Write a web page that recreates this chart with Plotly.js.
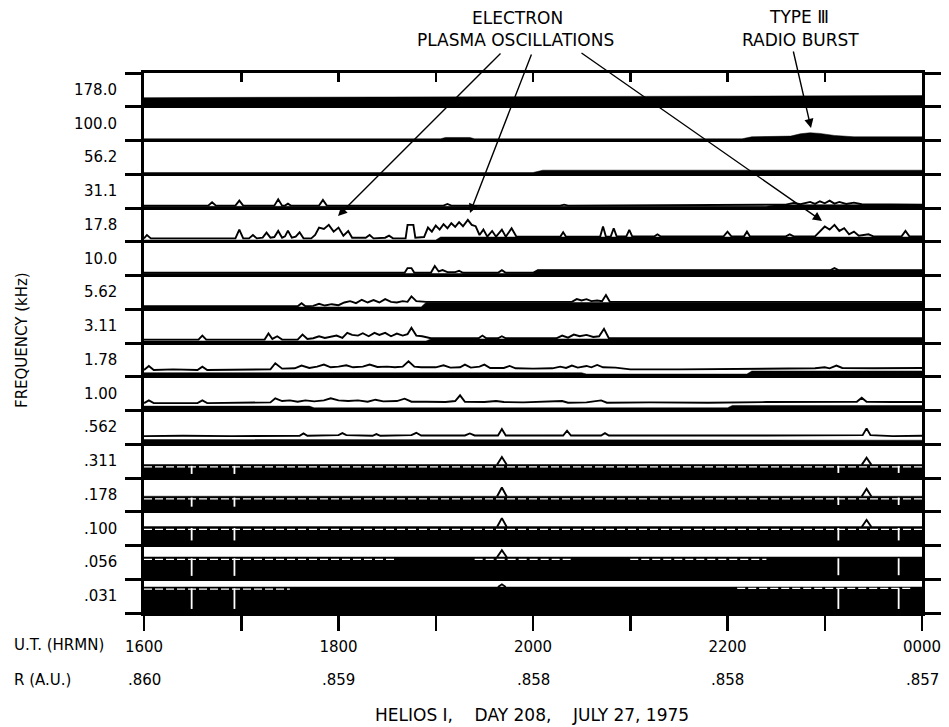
<!DOCTYPE html>
<html>
<head>
<meta charset="utf-8">
<script src="https://cdn.plot.ly/plotly-3.0.1.min.js"></script>
<style>html,body{margin:0;padding:0;background:#fff;}#chart{width:949px;height:727px;}</style>
</head>
<body>
<div id="chart"></div>
<script>
// ---------------- DATA ----------------
// Channel labels (kHz), top to bottom
const channelLabels = ['178.0','100.0','56.2','31.1','17.8','10.0','5.62','3.11','1.78','1.00','.562','.311','.178','.100','.056','.031'];
// Time axis: hours after 1600 UT
const hourTicks = [0,1,2,3,4,5,6,7,8];
const utLabels  = ['1600','','1800','','2000','','2200','','0000'];
const rHours    = [0,2,4,6,8];
const rLabels   = ['.860','.859','.858','.858','.857'];
// Data gaps (white dropouts) in the low-frequency channels, hours
const dropoutHours = [0.49, 0.93, 7.14, 7.76];

// Each series: [hour, level as fraction of the channel strip above its baseline]
const k178_0_band = [[0,0.27],[1.5,0.28],[3,0.30],[4.5,0.30],[6,0.31],[7.2,0.32],[8,0.33]];
const k100_0_band = [[0,0.05],[3.05,0.05],[3.1,0.09],[3.35,0.09],[3.4,0.05],[6.15,0.05],[6.25,0.11],[6.65,0.13],[6.75,0.2],[6.85,0.23],[6.95,0.21],[7.1,0.15],[7.3,0.11],[8,0.11]];
const k56_2_band  = [[0,0.05],[4.0,0.05],[4.1,0.12],[8,0.12]];
const k31_1_band  = [[0,0.05],[6.4,0.05],[6.5,0.1],[8,0.1]];
const k31_1_sig   = [[0,0.07],[0.66,0.07],[0.7,0.17],[0.74,0.07],[0.94,0.07],[0.98,0.22],[1.02,0.07],[1.34,0.07],[1.38,0.26],[1.42,0.07],[1.45,0.07],[1.48,0.13],[1.51,0.07],[1.8,0.07],[1.84,0.24],[1.88,0.07],[3.08,0.07],[3.12,0.12],[3.16,0.07],[4.28,0.07],[4.32,0.1],[4.36,0.07],[6.6,0.1],[6.68,0.15],[6.75,0.11],[6.85,0.18],[6.9,0.12],[6.95,0.2],[7.0,0.14],[7.05,0.22],[7.1,0.13],[7.15,0.18],[7.22,0.12],[7.3,0.16],[7.38,0.11],[7.45,0.11],[8,0.1]];
const k17_8_band  = [[0,0.05],[3.0,0.05],[3.05,0.14],[8,0.14]];
const k17_8_sig   = [[0,0.1],[0.03,0.2],[0.07,0.1],[0.94,0.1],[0.98,0.36],[1.02,0.1],[1.08,0.1],[1.12,0.2],[1.16,0.1],[1.22,0.12],[1.26,0.27],[1.3,0.12],[1.34,0.14],[1.38,0.32],[1.42,0.12],[1.45,0.16],[1.48,0.33],[1.52,0.12],[1.56,0.15],[1.6,0.28],[1.64,0.1],[1.72,0.1],[1.76,0.2],[1.8,0.42],[1.85,0.38],[1.9,0.5],[1.95,0.3],[2.0,0.42],[2.05,0.18],[2.1,0.32],[2.14,0.12],[2.28,0.12],[2.32,0.2],[2.36,0.1],[2.48,0.12],[2.52,0.18],[2.56,0.1],[2.69,0.1],[2.71,0.5],[2.77,0.5],[2.79,0.12],[2.88,0.14],[2.92,0.42],[2.96,0.3],[3.0,0.48],[3.04,0.36],[3.08,0.52],[3.12,0.4],[3.16,0.55],[3.2,0.44],[3.24,0.58],[3.28,0.46],[3.33,0.65],[3.37,0.5],[3.41,0.46],[3.45,0.2],[3.49,0.36],[3.53,0.15],[3.58,0.32],[3.62,0.15],[3.68,0.36],[3.72,0.15],[3.78,0.4],[3.83,0.15],[4.28,0.15],[4.31,0.28],[4.34,0.15],[4.69,0.15],[4.72,0.45],[4.75,0.15],[4.8,0.16],[4.83,0.4],[4.86,0.16],[4.96,0.16],[4.99,0.35],[5.02,0.16],[5.25,0.16],[5.28,0.22],[5.31,0.16],[5.96,0.16],[6.0,0.3],[6.04,0.16],[6.17,0.16],[6.2,0.3],[6.23,0.16],[6.6,0.16],[6.64,0.22],[6.68,0.16],[6.9,0.16],[6.95,0.32],[7.0,0.45],[7.05,0.36],[7.1,0.5],[7.15,0.32],[7.2,0.4],[7.25,0.22],[7.3,0.3],[7.35,0.18],[7.45,0.22],[7.5,0.16],[7.79,0.16],[7.83,0.32],[7.87,0.16],[8,0.16]];
const k10_0_band  = [[0,0.06],[4.0,0.06],[4.05,0.16],[8,0.16]];
const k10_0_sig   = [[0,0.08],[2.68,0.08],[2.71,0.22],[2.75,0.22],[2.78,0.08],[2.95,0.08],[2.99,0.28],[3.03,0.12],[3.07,0.16],[3.12,0.1],[3.2,0.1],[3.24,0.14],[3.28,0.08],[3.64,0.08],[3.68,0.16],[3.72,0.08],[4.0,0.08],[4.05,0.16],[7.06,0.16],[7.1,0.22],[7.14,0.16],[8,0.16]];
const k5_62_band  = [[0,0.07],[2.85,0.07],[2.9,0.2],[8,0.2]];
const k5_62_sig   = [[0,0.09],[1.58,0.09],[1.62,0.18],[1.66,0.09],[1.74,0.1],[1.8,0.16],[1.86,0.11],[1.93,0.15],[2.0,0.12],[2.06,0.2],[2.12,0.24],[2.18,0.18],[2.24,0.28],[2.3,0.2],[2.36,0.27],[2.42,0.2],[2.48,0.3],[2.54,0.22],[2.6,0.2],[2.66,0.24],[2.71,0.22],[2.75,0.38],[2.8,0.24],[2.86,0.22],[2.9,0.22],[4.4,0.22],[4.45,0.3],[4.5,0.26],[4.55,0.3],[4.6,0.24],[4.66,0.26],[4.71,0.24],[4.75,0.42],[4.79,0.22],[8,0.22]];
const k3_11_band  = [[0,0.06],[2.9,0.06],[2.95,0.12],[8,0.12]];
const k3_11_sig   = [[0,0.1],[0.56,0.1],[0.6,0.22],[0.64,0.1],[1.24,0.1],[1.28,0.28],[1.32,0.12],[1.37,0.2],[1.42,0.1],[1.58,0.1],[1.63,0.25],[1.68,0.12],[1.74,0.14],[1.8,0.2],[1.86,0.15],[1.92,0.18],[1.98,0.22],[2.04,0.15],[2.09,0.3],[2.14,0.24],[2.2,0.22],[2.25,0.29],[2.31,0.2],[2.37,0.3],[2.42,0.24],[2.48,0.3],[2.54,0.2],[2.6,0.28],[2.66,0.22],[2.71,0.26],[2.75,0.45],[2.8,0.22],[2.86,0.2],[2.95,0.14],[3.44,0.14],[3.48,0.22],[3.52,0.14],[3.64,0.14],[3.68,0.2],[3.72,0.14],[4.24,0.14],[4.3,0.22],[4.36,0.16],[4.42,0.25],[4.48,0.2],[4.55,0.24],[4.62,0.18],[4.68,0.2],[4.73,0.42],[4.78,0.14],[8,0.14]];
const k1_78_band  = [[0,0.12],[4.5,0.12],[4.55,0.08],[6.2,0.08],[6.25,0.17],[8,0.17]];
const k1_78_sig   = [[0,0.2],[0.05,0.32],[0.1,0.2],[0.3,0.22],[0.55,0.2],[0.6,0.3],[0.65,0.2],[1.0,0.22],[1.3,0.22],[1.35,0.4],[1.42,0.24],[1.55,0.25],[1.62,0.33],[1.7,0.26],[1.78,0.3],[1.85,0.36],[1.92,0.28],[2.0,0.3],[2.08,0.34],[2.15,0.28],[2.25,0.3],[2.32,0.36],[2.4,0.29],[2.5,0.3],[2.58,0.28],[2.66,0.3],[2.72,0.46],[2.78,0.3],[2.85,0.28],[3.0,0.28],[3.08,0.34],[3.15,0.27],[3.25,0.28],[3.3,0.36],[3.36,0.27],[3.45,0.3],[3.5,0.36],[3.56,0.26],[3.7,0.26],[3.76,0.32],[3.82,0.25],[4.0,0.24],[4.2,0.25],[4.28,0.3],[4.34,0.26],[4.4,0.33],[4.46,0.27],[4.55,0.32],[4.6,0.28],[4.66,0.35],[4.72,0.28],[4.85,0.27],[5.0,0.22],[5.5,0.22],[6.0,0.23],[6.5,0.24],[6.9,0.25],[7.0,0.28],[7.05,0.25],[7.12,0.33],[7.18,0.26],[7.5,0.25],[8,0.26]];
const k1_00_band  = [[0,0.13],[1.7,0.13],[1.75,0.08],[6.0,0.08],[6.05,0.15],[8,0.15]];
const k1_00_sig   = [[0,0.22],[0.05,0.3],[0.1,0.22],[0.55,0.22],[0.6,0.3],[0.65,0.22],[1.3,0.24],[1.35,0.36],[1.42,0.28],[1.5,0.3],[1.58,0.26],[1.66,0.3],[1.75,0.27],[1.85,0.3],[1.92,0.36],[2.0,0.3],[2.1,0.28],[2.2,0.3],[2.3,0.26],[2.38,0.32],[2.46,0.27],[2.6,0.28],[2.68,0.35],[2.75,0.26],[2.9,0.26],[3.1,0.25],[3.2,0.28],[3.25,0.45],[3.3,0.26],[3.5,0.25],[3.62,0.28],[3.7,0.25],[3.9,0.24],[4.1,0.25],[4.3,0.28],[4.36,0.23],[4.55,0.24],[4.7,0.3],[4.76,0.23],[5.2,0.24],[5.8,0.23],[6.4,0.25],[6.9,0.25],[7.33,0.26],[7.38,0.38],[7.43,0.26],[7.7,0.25],[8,0.25]];
const k0_562_band = [[0,0.14],[2.1,0.14],[2.15,0.12],[8,0.12]];
const k0_562_sig  = [[0,0.24],[0.4,0.25],[0.9,0.24],[1.6,0.25],[1.64,0.32],[1.68,0.25],[2.0,0.27],[2.04,0.33],[2.08,0.27],[2.35,0.25],[2.39,0.3],[2.43,0.25],[2.75,0.27],[2.8,0.34],[2.85,0.26],[3.3,0.26],[3.35,0.32],[3.4,0.26],[3.64,0.26],[3.68,0.45],[3.72,0.26],[4.31,0.26],[4.35,0.4],[4.39,0.26],[4.7,0.26],[4.74,0.33],[4.78,0.26],[5.5,0.25],[6.4,0.26],[7.39,0.27],[7.43,0.47],[7.47,0.27],[7.7,0.24],[8,0.25]];
const k0_311_band = [[0,0.40],[8,0.40]];
const k0_311_gap  = [[0,0.33],[8,0.33]];
const k0_311_sig  = [[3.63,0.39],[3.68,0.62],[3.73,0.39],[null,null],[7.38,0.39],[7.43,0.6],[7.48,0.39]];
const k0_311_drop = [0.12, 0.12, 0.15, 0.15];
const k0_178_band = [[0,0.46],[8,0.46]];
const k0_178_gap  = [[0,0.38],[8,0.38]];
const k0_178_sig  = [[3.63,0.45],[3.68,0.72],[3.73,0.45],[null,null],[7.38,0.45],[7.43,0.68],[7.48,0.45]];
const k0_178_drop = [0.15, 0.15, 0.2, 0.2];
const k0_100_band = [[0,0.56],[8,0.56]];
const k0_100_gap  = [[0,0.48],[8,0.48]];
const k0_100_sig  = [[3.63,0.55],[3.68,0.81],[3.73,0.55],[null,null],[7.38,0.55],[7.43,0.76],[7.48,0.55]];
const k0_100_drop = [0.15, 0.15, 0.15, 0.15];
const k0_056_band = [[0,0.66],[8,0.66]];
const k0_056_gap  = [[0,0.59],[2.6,0.59],[null,null],[3.4,0.59],[4.4,0.59],[null,null],[5.0,0.59],[6.4,0.59]];
const k0_056_sig  = [[3.63,0.65],[3.68,0.86],[3.73,0.65]];
const k0_056_drop = [0.1, 0.1, 0.12, 0.12];
const k0_031_band = [[0,0.77],[8,0.77]];
const k0_031_gap  = [[0,0.71],[1.5,0.71],[null,null],[6.1,0.73],[7.9,0.73]];
const k0_031_sig  = [[3.64,0.77],[3.68,0.85],[3.72,0.77]];
const k0_031_drop = [0.12, 0.12, 0.12, 0.12];

// Table assembled from the arrays above
const channels = [
  {band:k178_0_band},
  {band:k100_0_band},
  {band:k56_2_band},
  {band:k31_1_band, sig:k31_1_sig},
  {band:k17_8_band, sig:k17_8_sig},
  {band:k10_0_band, sig:k10_0_sig},
  {band:k5_62_band, sig:k5_62_sig},
  {band:k3_11_band, sig:k3_11_sig},
  {band:k1_78_band, sig:k1_78_sig},
  {band:k1_00_band, sig:k1_00_sig},
  {band:k0_562_band, sig:k0_562_sig},
  {band:k0_311_band, gap:k0_311_gap, sig:k0_311_sig, drop:k0_311_drop},
  {band:k0_178_band, gap:k0_178_gap, sig:k0_178_sig, drop:k0_178_drop},
  {band:k0_100_band, gap:k0_100_gap, sig:k0_100_sig, drop:k0_100_drop},
  {band:k0_056_band, gap:k0_056_gap, sig:k0_056_sig, drop:k0_056_drop},
  {band:k0_031_band, gap:k0_031_gap, sig:k0_031_sig, drop:k0_031_drop}
];

// ---------------- BUILD ----------------
const FONT = 'DejaVu Sans, Arial, sans-serif';
const NCH = channelLabels.length;
const traces = [];
const lift = (j) => (p) => (p[1] === null ? null : j + p[1]);

// bands
channels.forEach((c, k) => {
  const j = NCH - 1 - k;
  const xs = c.band.map(p => p[0]);
  const ys = c.band.map(lift(j));
  traces.push({
    x: xs.concat([xs[xs.length - 1], xs[0]]),
    y: ys.concat([j, j]),
    mode: 'lines', fill: 'toself', fillcolor: '#000',
    line: {color: '#000', width: 0.5}, hoverinfo: 'skip'
  });
});
// white gaps inside saturated bands
channels.forEach((c, k) => {
  if (!c.gap) return;
  const j = NCH - 1 - k;
  traces.push({
    x: c.gap.map(p => p[0]), y: c.gap.map(lift(j)),
    mode: 'lines', line: {color: '#fff', width: 1.3, dash: '8px,3px'}, hoverinfo: 'skip'
  });
});
// dropouts
channels.forEach((c, k) => {
  if (!c.drop) return;
  const j = NCH - 1 - k;
  const top = c.band[0][1];
  const xs = [], ys = [];
  dropoutHours.forEach((t, i) => {
    xs.push(t, t, null); ys.push(j + top - 0.04, j + c.drop[i], null);
  });
  traces.push({x: xs, y: ys, mode: 'lines', line: {color: '#fff', width: 1.8}, hoverinfo: 'skip'});
});
// signal traces
channels.forEach((c, k) => {
  if (!c.sig) return;
  const j = NCH - 1 - k;
  traces.push({
    x: c.sig.map(p => p[0]), y: c.sig.map(lift(j)),
    mode: 'lines', line: {color: '#000', width: 1.9}, connectgaps: false, hoverinfo: 'skip'
  });
});
// invisible trace for the top axis
traces.push({x: [hourTicks[0], hourTicks[hourTicks.length - 1]], y: [0, 0], xaxis: 'x2', mode: 'none', hoverinfo: 'skip'});

// pixel helpers for layout placement
const L = 144, R = 922, T = 73, B = 613;
const W = R - L, H = B - T;
const px = (x) => (x - L) / W;            // paper x
const py = (y) => (B - y) / H;            // paper y
const hx = (x) => (x - L) / W * 8;        // data x (hours)
const jy = (y) => (B - y) / H * NCH;      // data y

const annotations = [];
channelLabels.forEach((lab, k) => {
  const j = NCH - 1 - k;
  annotations.push({text: lab, xref: 'paper', yref: 'y', x: 0, y: j + 0.5, xanchor: 'right', yanchor: 'middle',
    xshift: -25, showarrow: false, font: {family: FONT, size: 15, color: '#000'}});
});
rHours.forEach((h, i) => {
  annotations.push({text: rLabels[i], xref: 'x', yref: 'paper', x: h, y: py(680), xanchor: 'center', yanchor: 'middle',
    showarrow: false, font: {family: FONT, size: 15, color: '#000'}});
});
const txt = (t, x, y, size, extra) => Object.assign({text: t, xref: 'paper', yref: 'paper', x: px(x), y: py(y),
  xanchor: 'center', yanchor: 'middle', showarrow: false, font: {family: FONT, size: size, color: '#000'}}, extra || {});
const SP = '\u00A0\u00A0\u00A0\u00A0';
annotations.push(txt('U.T. (HRMN)', 12, 645, 15, {xanchor: 'left'}));
annotations.push(txt('R (A.U.)', 12, 680, 15, {xanchor: 'left'}));
annotations.push(txt('FREQUENCY (kHz)', 22, 340, 15, {textangle: -90}));
annotations.push(txt('HELIOS I,' + SP + 'DAY 208,' + SP + 'JULY 27, 1975', 532, 715, 17));
annotations.push(txt('ELECTRON', 517, 18, 17));
annotations.push(txt('PLASMA OSCILLATIONS', 515, 40, 17));
annotations.push(txt('TYPE \u2162', 799, 17, 17));
annotations.push(txt('RADIO BURST', 800, 40, 17));
const arrow = (tx, ty, hxp, hyp) => ({text: '', xref: 'x', yref: 'y', axref: 'x', ayref: 'y',
  x: hx(hxp), y: jy(hyp), ax: hx(tx), ay: jy(ty), showarrow: true, arrowhead: 2, arrowsize: 1.3,
  arrowwidth: 1.4, arrowcolor: '#000', standoff: 0, startstandoff: 0});
annotations.push(arrow(502, 52, 338, 216));
annotations.push(arrow(532, 53, 470, 213));
annotations.push(arrow(580, 52, 822, 221));
annotations.push(arrow(793, 50, 811, 128));

const boundaries = Array.from({length: NCH + 1}, (_, i) => i);

const layout = {
  width: 949, height: 727,
  margin: {l: L, r: 949 - R, t: T, b: 727 - B, pad: 0},
  paper_bgcolor: '#fff', plot_bgcolor: '#fff',
  showlegend: false,
  font: {family: FONT, color: '#000'},
  xaxis: {range: [0, 8], tickmode: 'array', tickvals: hourTicks, ticktext: utLabels,
    ticks: 'outside', ticklen: 15, tickwidth: 2.5, tickcolor: '#000', ticklabelstandoff: 3,
    showline: true, linewidth: 3, linecolor: '#000', showgrid: false, zeroline: false,
    tickfont: {family: FONT, size: 15, color: '#000'}, fixedrange: true},
  xaxis2: {overlaying: 'x', side: 'top', range: [0, 8], tickmode: 'array', tickvals: hourTicks,
    ticks: 'inside', ticklen: 9, tickwidth: 2.5, tickcolor: '#000', showticklabels: false,
    showline: true, linewidth: 3, linecolor: '#000', showgrid: false, zeroline: false, fixedrange: true},
  yaxis: {range: [0, NCH], tickmode: 'array', tickvals: boundaries, showticklabels: false,
    ticks: 'outside', ticklen: 16, tickwidth: 3, tickcolor: '#000', mirror: 'ticks',
    showline: true, linewidth: 3, linecolor: '#000',
    showgrid: true, gridcolor: '#000', gridwidth: 3, zeroline: false, fixedrange: true},
  annotations: annotations
};

Plotly.newPlot('chart', traces, layout, {displayModeBar: false, staticPlot: true});
</script>
</body>
</html>
